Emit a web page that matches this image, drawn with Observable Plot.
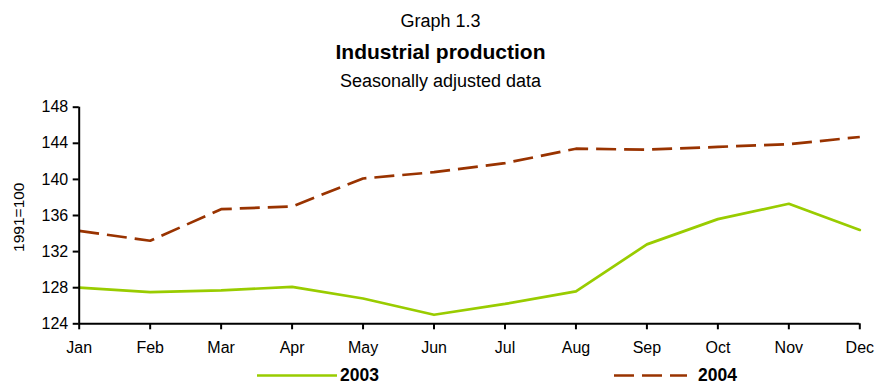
<!DOCTYPE html>
<html>
<head>
<meta charset="utf-8">
<script src="https://cdn.jsdelivr.net/npm/d3@7"></script>
<script src="https://cdn.jsdelivr.net/npm/@observablehq/plot@0.6"></script>
<style>
  html, body { margin: 0; padding: 0; background: #fff; }
  body { width: 875px; height: 384px; overflow: hidden; font-family: "Liberation Sans", Arial, sans-serif; color: #000; }
  #head { position: relative; height: 92px; }
  #head div { position: absolute; left: 0; width: 881px; text-align: center; line-height: 1; white-space: nowrap; }
  #chart svg { display: block; }
  #legend svg { display: block; }
</style>
</head>
<body>
<div id="head">
  <div style="top:11.5px;font-size:18px;">Graph 1.3</div>
  <div style="top:41px;font-size:21px;font-weight:bold;">Industrial production</div>
  <div style="top:72px;font-size:18px;">Seasonally adjusted data</div>
</div>
<div id="chart"></div>
<div id="legend"></div>
<script>
// Industrial production index (1991=100), seasonally adjusted, by month
const months = ["Jan", "Feb", "Mar", "Apr", "May", "Jun", "Jul", "Aug", "Sep", "Oct", "Nov", "Dec"];
const values2003 = [128.0, 127.5, 127.7, 128.1, 126.8, 125.0, 126.2, 127.6, 132.8, 135.6, 137.3, 134.4];
const values2004 = [134.3, 133.2, 136.7, 137.0, 140.1, 140.8, 141.8, 143.4, 143.3, 143.6, 143.9, 144.7];
const yTicks = [124, 128, 132, 136, 140, 144, 148];
const seriesNames = ["2003", "2004"];

const styles = {
  "2003": {stroke: "#99cc00", dash: null},
  "2004": {stroke: "#993300", dash: "20,8"}
};

const rows = (vals) => months.map((m, i) => ({month: m, value: vals[i]}));
const data2003 = rows(values2003);
const data2004 = rows(values2004);

const font = "'Liberation Sans', Arial, sans-serif";

const chart = Plot.plot({
  width: 875,
  height: 270,
  marginTop: 14.7,
  marginBottom: 38.7,
  marginLeft: 78.7,
  marginRight: 15.7,
  style: {fontFamily: font, fontSize: "16px", color: "#000", background: "#fff"},
  x: {type: "point", domain: months, padding: 0, round: false, label: null},
  y: {domain: [124, 148], label: null},
  marks: [
    Plot.line(data2003, {x: "month", y: "value", stroke: styles["2003"].stroke, strokeWidth: 2.7, strokeLinejoin: "round"}),
    Plot.line(data2004, {x: "month", y: "value", stroke: styles["2004"].stroke, strokeWidth: 2.7, strokeDasharray: styles["2004"].dash, strokeLinecap: "butt"}),
    Plot.ruleY([124], {stroke: "#000", strokeWidth: 2}),
    Plot.ruleX([months[0]], {stroke: "#000", strokeWidth: 2}),
    Plot.axisX({ticks: months, tickSize: 6, tickPadding: 12, strokeWidth: 2, fontSize: 16, label: null}),
    Plot.axisY({ticks: yTicks, tickSize: 6, tickPadding: 5, strokeWidth: 2, fontSize: 16, label: null}),
    Plot.text(["1991=100"], {text: (d) => d, frameAnchor: "left", textAnchor: "middle", dx: -60.4, dy: 1.7, rotate: -90, fontSize: 15.5})
  ]
});
document.getElementById("chart").appendChild(chart);

// Line-sample legend beneath the chart
const legendItems = [
  {name: seriesNames[0], x1: 257, x2: 337, tx: 340},
  {name: seriesNames[1], x1: 614, x2: 687, tx: 698}
];
const lsvg = d3.select("#legend").append("svg").attr("width", 875).attr("height", 22);
const g = lsvg.selectAll("g").data(legendItems).join("g");
g.append("line")
  .attr("x1", (d) => d.x1).attr("x2", (d) => d.x2)
  .attr("y1", 13.5).attr("y2", 13.5)
  .attr("stroke", (d) => styles[d.name].stroke)
  .attr("stroke-width", 2.7)
  .attr("stroke-dasharray", (d) => styles[d.name].dash);
g.append("text")
  .attr("x", (d) => d.tx).attr("y", 18.5)
  .attr("font-family", font).attr("font-size", 17.5).attr("font-weight", "bold")
  .text((d) => d.name);
</script>
</body>
</html>
